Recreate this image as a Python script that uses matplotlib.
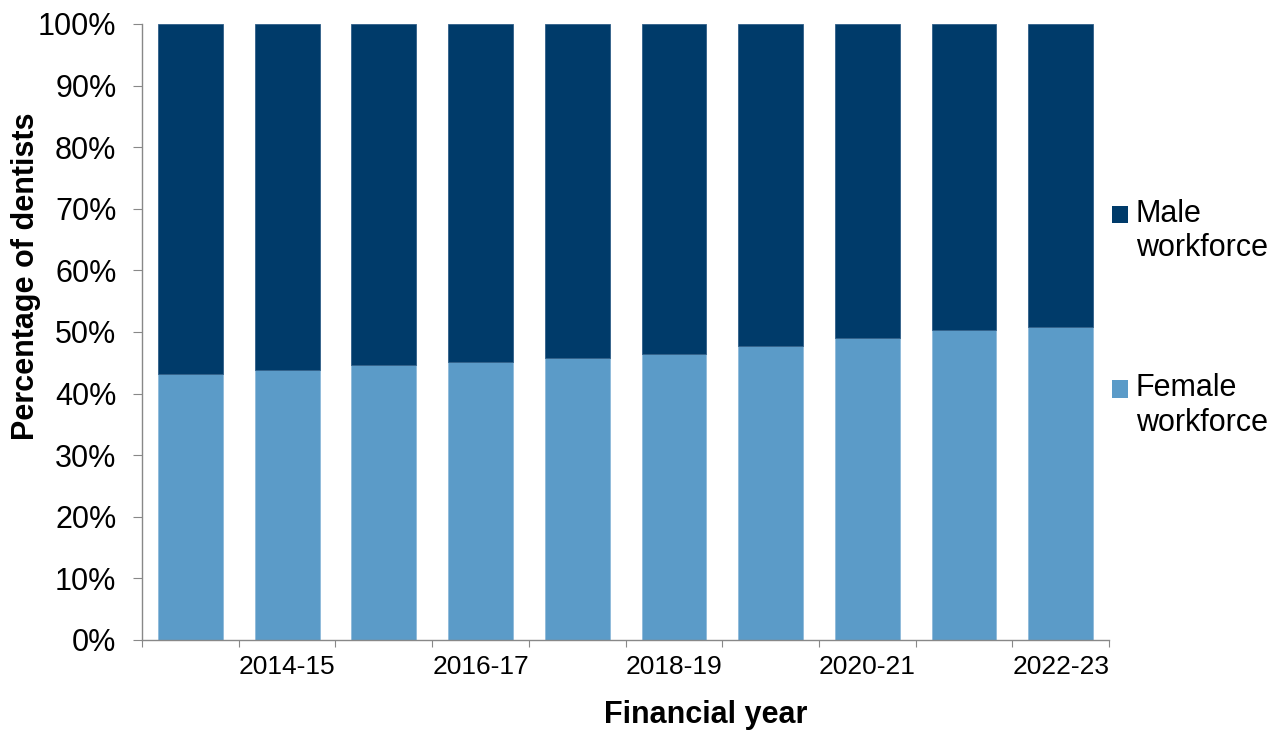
import numpy as np
import matplotlib.pyplot as plt
from matplotlib.patches import Patch

plt.rcParams['font.family'] = ['Liberation Sans', 'DejaVu Sans']

years = ['2013-14', '2014-15', '2015-16', '2016-17', '2017-18',
         '2018-19', '2019-20', '2020-21', '2021-22', '2022-23']
female = [43.1, 43.9, 44.6, 45.2, 45.8, 46.5, 47.7, 49.1, 50.3, 50.8]
male = [100 - f for f in female]

dark = '#003B6A'
light = '#5B9BC8'
grey = '#888888'


def main():
    fig = plt.figure(figsize=(12.8, 7.31), dpi=100)
    ax = fig.add_axes([0.111, 0.1245, 0.7555, 0.8427])
    x = np.arange(len(years))
    ax.bar(x, female, width=0.67, color=light, edgecolor='#8DB9DA', linewidth=0.6)
    ax.bar(x, male, width=0.67, bottom=female, color=dark, edgecolor='#2F5F88', linewidth=0.6)

    ax.set_xlim(-0.5, len(years) - 0.5)
    ax.set_ylim(0, 100)
    ax.set_yticks(range(0, 101, 10))
    ax.set_yticklabels([f'{v}%' for v in range(0, 101, 10)], fontsize=22)
    # ticks at category boundaries, labels every second year
    ax.set_xticks(np.arange(-0.5, len(years), 1.0))
    ax.set_xticklabels([])
    ax.set_xticks(x[1::2], minor=True)
    ax.set_xticklabels(years[1::2], minor=True, fontsize=19)
    ax.tick_params(axis='x', which='minor', length=0, pad=11)
    ax.tick_params(axis='x', which='major', length=5, color=grey, direction='out')
    ax.tick_params(axis='y', length=6.5, color=grey, direction='out', pad=12)

    for s in ['top', 'right']:
        ax.spines[s].set_visible(False)
    for s in ['left', 'bottom']:
        ax.spines[s].set_color(grey)
        ax.spines[s].set_linewidth(1)

    ax.set_ylabel('Percentage of dentists', fontsize=22, fontweight='bold')
    ax.set_xlabel('Financial year', fontsize=22, fontweight='bold')
    ax.yaxis.set_label_coords(-0.1044, 0.591)
    ax.xaxis.set_label_coords(0.583, -0.0974)

    handles = [Patch(facecolor=dark), Patch(facecolor=light)]
    leg = fig.legend(handles, ['Male\nworkforce', 'Female\nworkforce'],
                     loc='upper left', bbox_to_anchor=(0.869, 0.728), frameon=False,
                     fontsize=22, handlelength=0.52, handleheight=0.52,
                     handletextpad=0.25, labelspacing=3.6, borderpad=0,
                     borderaxespad=0)
    # put the squares level with the first line of each label
    for p in leg.legend_handles:
        p.set_y(p.get_y() + 12.5)

    fig.savefig('out.png', dpi=100)


if __name__ == '__main__':
    main()
